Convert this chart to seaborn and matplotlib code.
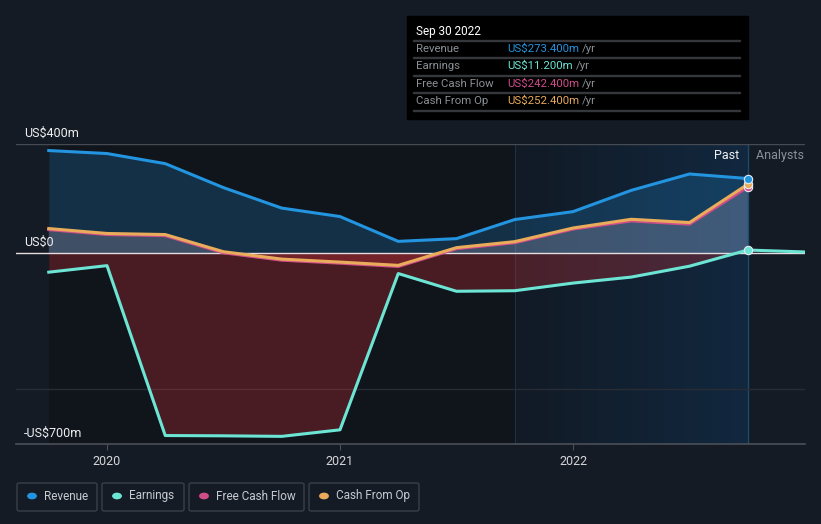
import numpy as np
import pandas as pd
import matplotlib
matplotlib.use("Agg")
import matplotlib.pyplot as plt
from matplotlib.patches import FancyBboxPatch, Rectangle
from matplotlib.colors import LinearSegmentedColormap
import seaborn as sns

# ---- data (US$ m, quarterly, trailing twelve months) ----
dates = [2019.75, 2020.0, 2020.25, 2020.5, 2020.75, 2021.0, 2021.25,
         2021.5, 2021.75, 2022.0, 2022.25, 2022.5, 2022.75]
revenue = [376, 365, 328, 240, 165, 134, 43, 53, 123, 152, 230, 290, 273.4]
earnings = [-70, -46, -669, -670, -672, -648, -75, -140, -138, -110, -88, -48, 11.2]
fcf = [86, 68, 64, 1, -26, -37, -49, 16, 38, 88, 118, 106, 242.4]
cfo = [90, 72, 68, 5, -22, -33, -45, 20, 42, 92, 124, 112, 252.4]
fc_dates = [2022.75, 2023.0]
fc_earnings = [11.2, 4]

year_ticks = [2020, 2021, 2022]
year_labels = ["2020", "2021", "2022"]

C_REV = "#2394df"
C_EARN = "#6ce5d5"
C_FCF = "#d14d8a"
C_CFO = "#e9ac5b"
BG = "#151b25"

plt.rcParams["font.family"] = ["Roboto", "DejaVu Sans"]

df = pd.DataFrame({"date": dates, "Revenue": revenue, "Earnings": earnings,
                   "Free Cash Flow": fcf, "Cash From Op": cfo})
fc = pd.DataFrame({"date": fc_dates, "Earnings": fc_earnings})

fig = plt.figure(figsize=(8.21, 5.24), dpi=100, facecolor=BG)
W, H = 821, 524
ax = fig.add_axes([16 / W, (H - 444) / H, (805 - 16) / W, 300 / H])
ax.set_facecolor(BG)
x0 = 2020 + (16 - 107) / 233
x1 = 2020 + (805 - 107) / 233
ax.set_xlim(x0, x1)
ax.set_ylim(-700, 400)

# past region darker
ax.axvspan(dates[0], dates[-1], color="#10141b", zorder=0, lw=0)
# highlighted last year gradient
grad = np.linspace(0, 1, 256).reshape(1, -1)
cm = LinearSegmentedColormap.from_list("g", ["#111a25", "#12283f"])
ax.imshow(grad, extent=[2021.75, dates[-1], -700, 400], aspect="auto",
          cmap=cm, zorder=0.5, interpolation="bicubic")
ax.axvline(2021.75, color="#1b3347", lw=0.8, zorder=0.6)
ax.axvline(dates[-1], color="#1d4a6a", lw=1.0, zorder=0.6)

# gridlines
ax.axhline(400, color="#454a53", lw=1.0, zorder=1)
ax.axhline(-500, color="#272c35", lw=1.0, zorder=1)
ax.axhline(-700, color="#4a4f58", lw=1.2, zorder=1, clip_on=False)

# fills
ax.fill_between(dates, revenue, 0, color=C_REV, alpha=0.22, lw=0, zorder=2)
ax.fill_between(dates, earnings, 0, color="#c23038", alpha=0.32, lw=0, zorder=2)
fcf_a = np.array(fcf, dtype=float)
ax.fill_between(dates, fcf_a, 0, where=fcf_a >= 0, interpolate=True,
                color="#d8c0d8", alpha=0.22, lw=0, zorder=2)
ax.fill_between(dates, fcf_a, 0, where=fcf_a <= 0, interpolate=True,
                color="#c23038", alpha=0.35, lw=0, zorder=2)

ax.axhline(0, color="#e6dde0", lw=1.0, zorder=3)

# lines
sns.lineplot(data=df, x="date", y="Revenue", color=C_REV, lw=2.2, ax=ax, zorder=4)
sns.lineplot(data=df, x="date", y="Free Cash Flow", color=C_FCF, lw=2.2, ax=ax, zorder=4)
sns.lineplot(data=df, x="date", y="Cash From Op", color=C_CFO, lw=2.2, ax=ax, zorder=4)
sns.lineplot(data=df, x="date", y="Earnings", color=C_EARN, lw=2.2, ax=ax, zorder=4)
sns.lineplot(data=fc, x="date", y="Earnings", color=C_EARN, lw=2.2, ax=ax, zorder=4)

for col, c in [("Earnings", C_EARN), ("Free Cash Flow", C_FCF),
               ("Cash From Op", C_CFO), ("Revenue", C_REV)]:
    ax.scatter([dates[-1]], [df[col].iloc[-1]], s=36, color=c,
               edgecolor="#e8eef5", linewidth=0.8, zorder=6)

ax.set_xlabel("")
ax.set_ylabel("")
ax.set_xticks(year_ticks)
ax.set_xticklabels(year_labels)
ax.set_yticks([])
ax.tick_params(axis="x", colors="#4a4f58", labelcolor="#d5d7da",
               labelsize=9, length=4, width=0.8, pad=4)
for s in ax.spines.values():
    s.set_visible(False)

# y labels as text
for val, lab in [(400, "US$400m"), (0, "US$0"), (-700, "-US$700m")]:
    ax.text(2020 + (24 - 107) / 233, val + 14, lab, color="#eef0f2",
            fontsize=9, va="bottom", ha="left", zorder=7)

ax.text(2022.75 - 0.035, 358, "Past", color="#eef0f2", fontsize=9,
        ha="right", va="center", zorder=7)
ax.text(2022.75 + 0.035, 358, "Analysts Forecasts", color="#8a8f96",
        fontsize=9, ha="left", va="center", zorder=7, clip_on=True)


def fx(px):
    return px / W


def fy(py):
    return 1 - py / H


# tooltip box
fig.patches.append(Rectangle((fx(407), fy(119)), (748 - 407) / W, 103 / H,
                             transform=fig.transFigure, color="#000000", zorder=10))
fig.text(fx(416), fy(31), "Sep 30 2022", color="#ffffff", fontsize=8.5,
         va="center", ha="left", zorder=11)
rows = [("Revenue", "US$273.400m", C_REV, 49),
        ("Earnings", "US$11.200m", C_EARN, 66),
        ("Free Cash Flow", "US$242.400m", C_FCF, 84),
        ("Cash From Op", "US$252.400m", C_CFO, 101)]
for ly in [41, 58, 76, 93, 111]:
    fig.patches.append(Rectangle((fx(413), fy(ly)), (740 - 413) / W, 1 / H,
                                 transform=fig.transFigure, color="#34373c", zorder=11))
fig.canvas.draw()
for lab, val, c, yy in rows:
    fig.text(fx(416), fy(yy), lab, color="#8b9096", fontsize=8.2, va="center",
             ha="left", zorder=12)
    t = fig.text(fx(507), fy(yy), val, color=c, fontsize=8.2, va="center",
                 ha="left", zorder=12)
    bb = t.get_window_extent(renderer=fig.canvas.get_renderer())
    fig.text(bb.x1 / W + 3 / W, fy(yy), "/yr", color="#8b9096", fontsize=8.2,
             va="center", ha="left", zorder=12)

# legend boxes
legend = [("Revenue", C_REV, 17, 97), ("Earnings", C_EARN, 102, 184),
          ("Free Cash Flow", C_FCF, 189, 304), ("Cash From Op", C_CFO, 309, 419)]
for lab, c, lx0, lx1 in legend:
    fig.patches.append(FancyBboxPatch((fx(lx0), fy(511)), (lx1 - lx0) / W, 28 / H,
                                      boxstyle="round,pad=0,rounding_size=0.003",
                                      transform=fig.transFigure, facecolor="none",
                                      edgecolor="#3a3f48", lw=1.0, zorder=10))
    fig.patches.append(plt.Circle((fx(lx0 + 15), fy(496)), 4.2 / W,
                                  transform=fig.transFigure, color=c, zorder=11))
    fig.text(fx(lx0 + 27), fy(496), lab, color="#c8cbd0", fontsize=8.5,
             va="center", ha="left", zorder=11)

fig.savefig("out.png", dpi=100, facecolor=BG)
